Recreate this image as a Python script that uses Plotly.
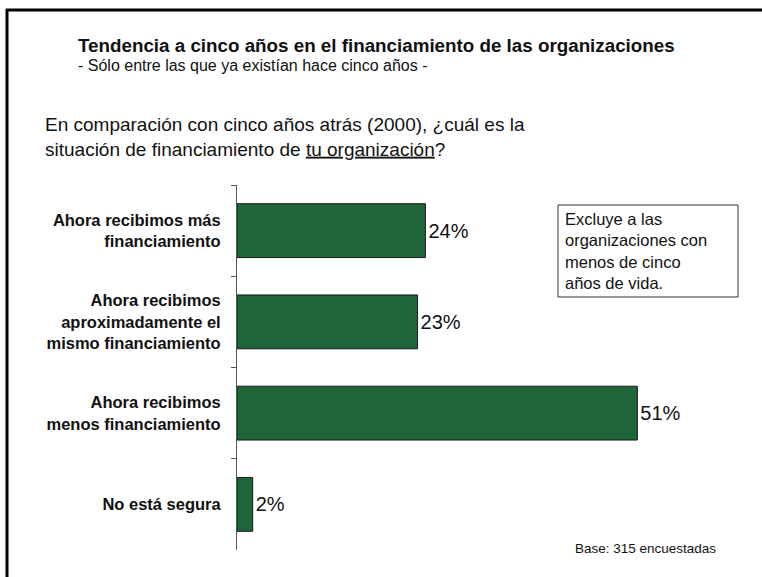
import plotly.graph_objects as go

categories = [
    "Ahora recibimos más<br>financiamiento",
    "Ahora recibimos<br>aproximadamente el<br>mismo financiamiento",
    "Ahora recibimos<br>menos financiamiento",
    "No está segura",
]
values = [24, 23, 51, 2]

title = "<b>Tendencia a cinco años en el financiamiento de las organizaciones</b>"
subtitle = "- Sólo entre las que ya existían hace cinco años -"
question = ("En comparación con cinco años atrás (2000), ¿cuál es la<br>"
            "situación de financiamiento de <u>tu organización</u>?")
note = "Excluye a las<br>organizaciones con<br>menos de cinco<br>años de vida."
base = "Base: 315 encuestadas"

W, H = 762, 577
L, R, T, B = 237, 708, 185, 550
FONT = "Liberation Sans, Arial, sans-serif"


def px(x):
    return (x - L) / (R - L)


def py(y):
    return (B - y) / (B - T)


fig = go.Figure(go.Bar(
    x=values,
    y=categories,
    orientation="h",
    marker=dict(color="#1e6539", line=dict(color="#1a1a1a", width=1)),
    texttemplate="%{x}%",
    textposition="outside",
    textfont=dict(size=20, color="#111", family=FONT),
    cliponaxis=False,
))

fig.update_layout(
    width=W, height=H,
    margin=dict(l=L, r=W - R, t=T, b=H - B, pad=0),
    paper_bgcolor="white", plot_bgcolor="white",
    font=dict(family=FONT, color="#111"),
    showlegend=False,
    bargap=0.41,
    xaxis=dict(range=[0, 60], visible=False, fixedrange=True),
    yaxis=dict(
        type="category",
        range=[3.5, -0.5],
        showline=True, linecolor="#555", linewidth=1,
        ticks="outside", ticklen=5, tickcolor="#555", tickwidth=1,
        tickson="boundaries",
        tickfont=dict(size=16.5, color="#111", family=FONT, weight="bold"),
        ticklabelstandoff=12,
        showgrid=False, zeroline=False,
    ),
    annotations=[
        dict(text=title, x=px(76), y=py(46), xref="paper", yref="paper",
             xanchor="left", yanchor="middle", showarrow=False,
             font=dict(size=18.8, color="#111")),
        dict(text=subtitle, x=px(76), y=py(65), xref="paper", yref="paper",
             xanchor="left", yanchor="middle", showarrow=False,
             font=dict(size=16, color="#111")),
        dict(text=question, x=px(43), y=py(137), xref="paper", yref="paper",
             xanchor="left", yanchor="middle", align="left", showarrow=False,
             font=dict(size=19, color="#111")),
        dict(text=note, x=px(563), y=py(251), xref="paper", yref="paper",
             xanchor="left", yanchor="middle", align="left", showarrow=False,
             font=dict(size=16.5, color="#111")),
        dict(text=base, x=px(718), y=py(548), xref="paper", yref="paper",
             xanchor="right", yanchor="middle", showarrow=False,
             font=dict(size=13.5, color="#111")),
    ],
    shapes=[
        dict(type="rect", xref="paper", yref="paper",
             x0=px(558), x1=px(738), y0=py(205), y1=py(297),
             line=dict(color="#333", width=1), fillcolor="rgba(0,0,0,0)"),
        dict(type="line", xref="paper", yref="paper",
             x0=px(6), x1=px(762), y0=py(10), y1=py(10),
             line=dict(color="black", width=3)),
        dict(type="line", xref="paper", yref="paper",
             x0=px(7), x1=px(7), y0=py(9), y1=py(577),
             line=dict(color="black", width=3)),
    ],
)

fig.write_html("out.html", config={"displayModeBar": False},
               post_script="document.body.style.margin='0';")
